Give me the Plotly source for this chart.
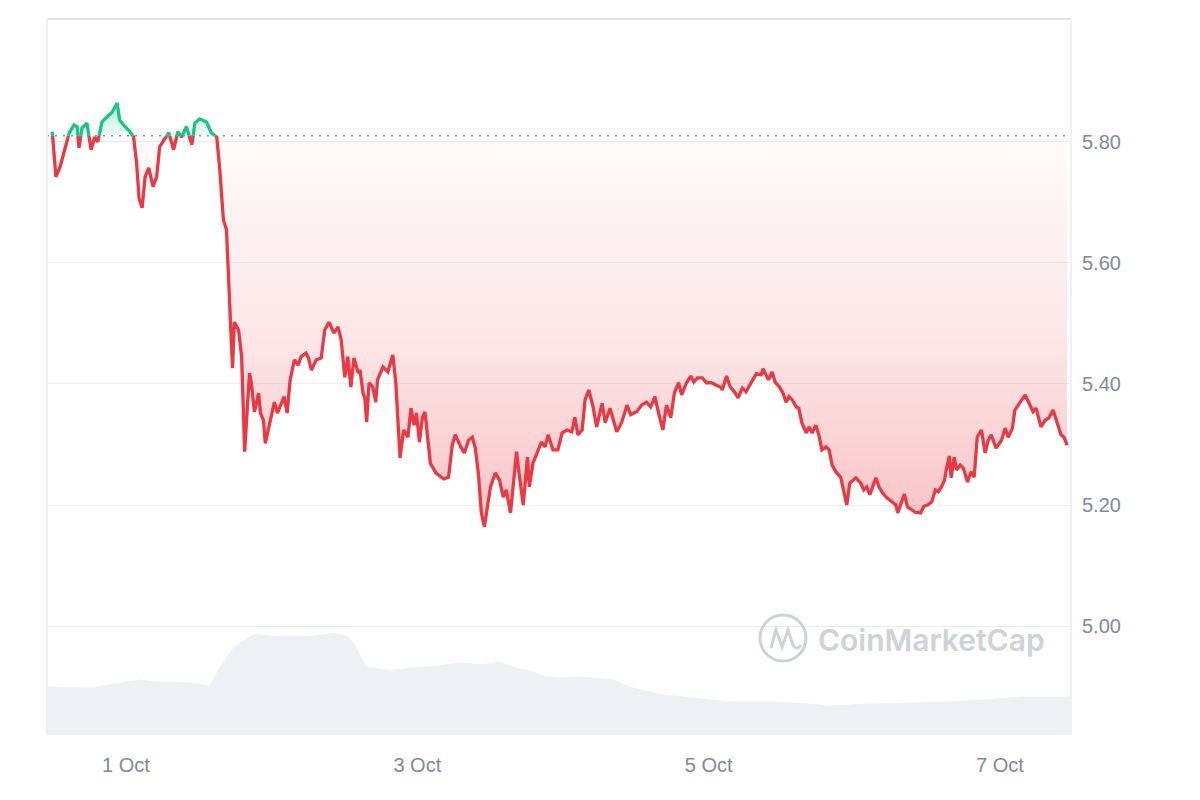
import pandas as pd
import plotly.graph_objects as go

# ---------------- data ----------------
START = pd.Timestamp("2024-09-30 11:21")          # first sample time
AXIS_RANGE = ["2024-09-30 10:59", "2024-10-07 11:42"]
BASE_PRICE = 5.81                                  # reference (open) price

price_hours = [
    0.5, 1.1, 1.8, 2.6, 3.3, 4.1, 4.6, 4.9, 5.4, 6.2, 6.9, 7.5, 8.0, 8.7, 9.5, 10.3, 11.2, 11.6, 12.5, 13.3,
    13.9, 14.4, 14.8, 15.3, 15.8, 16.4, 17.1, 17.7, 18.2, 18.9, 19.7, 20.5, 21.2, 21.8, 22.6, 23.5, 24.0, 24.8,
    25.9, 26.7, 27.6,
    28.1, 28.7, 29.2, 29.5, 29.7, 30.2, 30.5, 31.2, 31.7, 32.2, 33.0, 33.3, 33.8, 34.5, 34.8, 35.3, 35.6, 36.1,
    36.6, 37.1, 37.6, 38.1, 38.7, 39.2, 39.7, 40.4, 41.0, 41.5, 42.3, 42.7, 43.2, 44.0, 44.8, 45.4, 46.1, 46.9,
    47.6, 48.1, 48.7, 49.2, 49.7, 50.2, 50.9, 51.2, 51.7, 52.0, 52.3, 52.7, 53.3, 53.8, 54.1, 55.0, 55.8, 56.6,
    57.1, 57.8,
    58.4, 59.1, 59.6, 60.1, 60.5, 61.0, 61.5, 61.9, 62.3, 62.8, 63.7, 64.5, 65.0, 65.8, 66.4, 66.9, 67.8, 68.4,
    69.1, 69.7, 70.2, 70.7, 71.2, 71.7, 72.2, 72.7, 73.5, 74.2, 74.8, 75.3, 76.0, 76.5, 77.0, 77.4, 78.1, 78.8,
    79.1, 79.7, 80.4, 81.1, 81.7, 82.2, 83.0, 83.8, 84.5, 85.3, 86.1, 86.6, 87.1, 87.8, 88.3, 88.9, 89.6, 90.2,
    91.1, 91.6, 92.4, 92.9, 93.5, 94.3, 95.2, 95.8, 96.8, 97.6, 98.4, 99.1, 99.8, 100.4, 101.1, 101.7, 102.4,
    103.0, 103.7,
    104.2, 105.0, 105.7, 106.2, 106.8, 107.6, 108.3, 109.1, 109.9, 110.6, 110.9, 111.6, 112.2, 112.9, 113.5,
    114.2, 114.8, 115.7, 116.5, 117.3, 117.6, 118.1, 118.5, 119.1, 119.6, 120.3, 120.9, 121.4, 121.9, 122.4,
    123.1, 123.5, 124.0, 124.7, 125.2, 125.7, 126.3, 126.8, 127.3, 128.0, 128.5, 129.0, 129.6, 130.4, 130.9,
    131.4, 131.9, 132.4, 132.9, 133.7, 134.2, 134.7, 135.2, 135.5, 136.2, 136.7, 137.3, 138.0, 138.8, 139.5,
    139.8, 140.4, 140.9, 141.4, 142.1, 142.7, 143.6, 144.1, 144.7, 145.4, 146.0, 146.5, 147.0, 147.5, 147.8,
    148.3, 148.6, 149.1, 149.5, 150.1, 150.6, 151.3, 151.9, 152.4, 152.9, 153.6, 154.2, 154.7, 155.2, 156.0,
    156.9, 157.5, 158.0, 158.7, 159.1, 160.0, 160.8, 161.4, 162.1, 162.6, 163.4, 164.1, 164.7, 165.4, 166.0,
    166.7, 167.2, 167.7,
]

prices = [
    5.817, 5.742, 5.759, 5.790, 5.815, 5.828, 5.825, 5.790, 5.823, 5.831, 5.787, 5.808, 5.800, 5.833, 5.841,
    5.848, 5.864, 5.836, 5.825, 5.817, 5.808, 5.765, 5.707, 5.691, 5.742, 5.757, 5.726, 5.742, 5.792, 5.803,
    5.815, 5.787, 5.817, 5.808, 5.825, 5.795, 5.831, 5.838, 5.833, 5.815, 5.808,
    5.754, 5.671, 5.655, 5.588, 5.534, 5.426, 5.502, 5.489, 5.445, 5.288, 5.418, 5.402, 5.354, 5.385, 5.352,
    5.340, 5.302, 5.324, 5.352, 5.370, 5.352, 5.365, 5.379, 5.352, 5.407, 5.440, 5.431, 5.445, 5.451, 5.443,
    5.423, 5.440, 5.443, 5.489, 5.502, 5.484, 5.494, 5.473, 5.411, 5.445, 5.395, 5.443, 5.418, 5.423, 5.385,
    5.377, 5.337, 5.402, 5.395, 5.370, 5.407, 5.428, 5.420, 5.448, 5.402, 5.278,
    5.324, 5.312, 5.360, 5.332, 5.352, 5.304, 5.345, 5.354, 5.319, 5.269, 5.253, 5.246, 5.243, 5.246, 5.299,
    5.316, 5.296, 5.286, 5.307, 5.312, 5.294, 5.253, 5.187, 5.164, 5.197, 5.230, 5.253, 5.241, 5.213, 5.225,
    5.187, 5.241, 5.288, 5.253, 5.200, 5.279, 5.230, 5.269, 5.286, 5.304, 5.296, 5.316, 5.291, 5.291, 5.319,
    5.324, 5.321, 5.345, 5.316, 5.324, 5.374, 5.390, 5.362, 5.329, 5.368, 5.336, 5.360, 5.344, 5.321, 5.336,
    5.365, 5.349, 5.354, 5.365, 5.370, 5.362, 5.379, 5.352, 5.324, 5.365, 5.344, 5.385, 5.402,
    5.382, 5.402, 5.413, 5.403, 5.410, 5.410, 5.402, 5.402, 5.398, 5.395, 5.390, 5.413, 5.395, 5.387, 5.377,
    5.393, 5.387, 5.403, 5.417, 5.415, 5.425, 5.415, 5.407, 5.420, 5.403, 5.395, 5.385, 5.370, 5.379, 5.374,
    5.362, 5.360, 5.336, 5.319, 5.329, 5.319, 5.332, 5.316, 5.291, 5.296, 5.291, 5.266, 5.255, 5.246, 5.225,
    5.200, 5.236, 5.241, 5.245, 5.236, 5.225, 5.230, 5.217, 5.225, 5.245, 5.230, 5.220, 5.212, 5.205, 5.200,
    5.187, 5.203, 5.218, 5.197, 5.192, 5.188, 5.187, 5.198, 5.200, 5.205, 5.225, 5.222, 5.230, 5.241, 5.258,
    5.281, 5.245, 5.279, 5.258, 5.266, 5.261, 5.238, 5.255, 5.246, 5.312, 5.324, 5.286, 5.307, 5.316, 5.294,
    5.307, 5.327, 5.312, 5.327, 5.357, 5.370, 5.382, 5.369, 5.354, 5.360, 5.329, 5.340, 5.344, 5.357, 5.336,
    5.316, 5.312, 5.299,
]

volume_hours = [
    -0.4, 7.1, 9.8, 14.8, 17.4, 23.5, 26.4, 28.4, 30.4, 31.7, 33.8, 37.1, 42.7, 46.9, 49.2, 50.5, 52.2, 56.3,
    60.1, 63.3, 67.8, 71.5, 73.8, 77.1, 79.7, 82.0, 84.2, 87.5, 92.9, 96.2, 101.1, 106.6, 112.1, 120.3, 125.7,
    128.5, 133.9, 142.1, 147.7, 155.9, 160.1, 168.4,
]
volumes_musd = [
    48, 47, 50, 55, 53, 52, 49, 70, 87, 93, 100, 98, 98, 101, 98, 88, 68, 64, 67, 68, 72, 70, 73, 66, 63, 58,
    57, 58, 55, 47, 40, 37, 33, 33, 31, 29, 31, 32, 33, 36, 38, 38,
]

tick_dates = ["2024-10-01", "2024-10-03", "2024-10-05", "2024-10-07"]
tick_text = ["1 Oct", "3 Oct", "5 Oct", "7 Oct"]
price_ticks = [5.00, 5.20, 5.40, 5.60, 5.80]

assert len(price_hours) == len(prices)
assert len(volume_hours) == len(volumes_musd)

# ---------------- styling ----------------
RED = "#ea3943"
GREEN = "#16c784"
TEXT = "#808a9d"
FONT = "Arial, Liberation Sans, sans-serif"
LW = 3.3


def split_at_base(hours, vals, base):
    """Insert the points where the line crosses the base so that colours switch exactly on it."""
    H, V = [hours[0]], [vals[0]]
    for i in range(1, len(vals)):
        a, b = vals[i - 1], vals[i]
        if (a - base) * (b - base) < 0:
            f = (base - a) / (b - a)
            H.append(hours[i - 1] + (hours[i] - hours[i - 1]) * f)
            V.append(base)
        H.append(hours[i])
        V.append(b)
    return H, V


H, V = split_at_base(price_hours, prices, BASE_PRICE)
T = [START + pd.Timedelta(hours=h) for h in H]
below = [min(v, BASE_PRICE) for v in V]
above = [max(v, BASE_PRICE) for v in V]
red_line = [v if v <= BASE_PRICE else None for v in V]
green_line = [v if v >= BASE_PRICE else None for v in V]
vol_t = [START + pd.Timedelta(hours=h) for h in volume_hours]

fig = go.Figure()

# volume area (secondary axis)
fig.add_trace(go.Scatter(
    x=vol_t, y=volumes_musd, yaxis="y2", mode="lines", line=dict(width=0, color="#edf0f4"),
    fill="tozeroy", fillcolor="#edf0f4", hoverinfo="skip", showlegend=False,
))

# red fill between base and line
fig.add_trace(go.Scatter(x=T, y=[BASE_PRICE] * len(T), mode="lines", line=dict(width=0),
                         hoverinfo="skip", showlegend=False))
fig.add_trace(go.Scatter(
    x=T, y=below, mode="lines", line=dict(width=0), fill="tonexty",
    fillgradient=dict(type="vertical",
                      colorscale=[[0, "rgba(234,57,67,0.30)"], [0.5, "rgba(234,57,67,0.12)"],
                                  [1, "rgba(234,57,67,0.02)"]],
                      start=min(prices), stop=BASE_PRICE),
    hoverinfo="skip", showlegend=False,
))

# green fill between base and line
fig.add_trace(go.Scatter(x=T, y=[BASE_PRICE] * len(T), mode="lines", line=dict(width=0),
                         hoverinfo="skip", showlegend=False))
fig.add_trace(go.Scatter(
    x=T, y=above, mode="lines", line=dict(width=0), fill="tonexty",
    fillgradient=dict(type="vertical",
                      colorscale=[[0, "rgba(22,199,132,0.05)"], [1, "rgba(22,199,132,0.35)"]],
                      start=BASE_PRICE, stop=max(prices)),
    hoverinfo="skip", showlegend=False,
))

# price lines
fig.add_trace(go.Scatter(x=T, y=red_line, mode="lines", connectgaps=False,
                         line=dict(color=RED, width=LW), showlegend=False))
fig.add_trace(go.Scatter(x=T, y=green_line, mode="lines", connectgaps=False,
                         line=dict(color=GREEN, width=LW), showlegend=False))


def px_to_paper(px, py):
    return (px - 47) / 1024, (735 - py) / 716


# logo wave path
wave_pts = [(771, 648), (776, 630), (782, 647), (788, 630), (793, 645)]
path = "M " + " L ".join("%.4f,%.4f" % px_to_paper(x, y) for x, y in wave_pts)
qx, qy = px_to_paper(797, 651)
ex, ey = px_to_paper(801, 645)
path += " Q %.4f,%.4f %.4f,%.4f" % (qx, qy, ex, ey)
cx0, cy0 = px_to_paper(760, 661)
cx1, cy1 = px_to_paper(806, 615)

shapes = [
    # dotted reference line
    dict(type="line", xref="paper", x0=0, x1=1, yref="y", y0=BASE_PRICE, y1=BASE_PRICE,
         line=dict(color="#8a8f98", width=1.5, dash="2px,6px"), layer="above"),
    # frame
    dict(type="line", xref="paper", yref="paper", x0=0, x1=1, y0=1, y1=1,
         line=dict(color="#e2e2e2", width=2)),
    dict(type="line", xref="paper", yref="paper", x0=0, x1=0, y0=0, y1=1,
         line=dict(color="#f0f0f0", width=2)),
    dict(type="line", xref="paper", yref="paper", x0=1, x1=1, y0=0, y1=1,
         line=dict(color="#f0f0f0", width=2)),
    # watermark logo
    dict(type="circle", xref="paper", yref="paper", x0=cx0, x1=cx1, y0=cy0, y1=cy1,
         line=dict(color="#cdd2db", width=3)),
    dict(type="path", xref="paper", yref="paper", path=path,
         line=dict(color="#cdd2db", width=3)),
]

wx, wy = px_to_paper(931, 640)
fig.update_layout(
    width=1200, height=800, autosize=False,
    # the page body adds an 8px offset, so margins are shifted to put the plot area at 47..1071 x 19..735
    margin=dict(l=39, r=137, t=11, b=73),
    paper_bgcolor="white", plot_bgcolor="white",
    showlegend=False,
    xaxis=dict(type="date", range=AXIS_RANGE, tickvals=tick_dates, ticktext=tick_text,
               showgrid=False, zeroline=False, showline=False, ticks="",
               tickfont=dict(family=FONT, size=20, color=TEXT), ticklabelstandoff=16),
    yaxis=dict(side="right", range=[4.82, 6.003], tickvals=price_ticks, tickformat=".2f",
               showgrid=True, gridcolor="#ededed", gridwidth=1, zeroline=False, showline=False,
               ticks="", tickfont=dict(family=FONT, size=20, color=TEXT), ticklabelstandoff=10),
    yaxis2=dict(overlaying="y", range=[0, 709], visible=False, showgrid=False),
    shapes=shapes,
    annotations=[dict(text="CoinMarketCap", xref="paper", yref="paper", x=wx, y=wy,
                      xanchor="center", yanchor="middle", showarrow=False,
                      font=dict(family="Inter, Arial, sans-serif", size=30, color="#cdd2db", weight=600))],
)

fig.write_html("out.html")
